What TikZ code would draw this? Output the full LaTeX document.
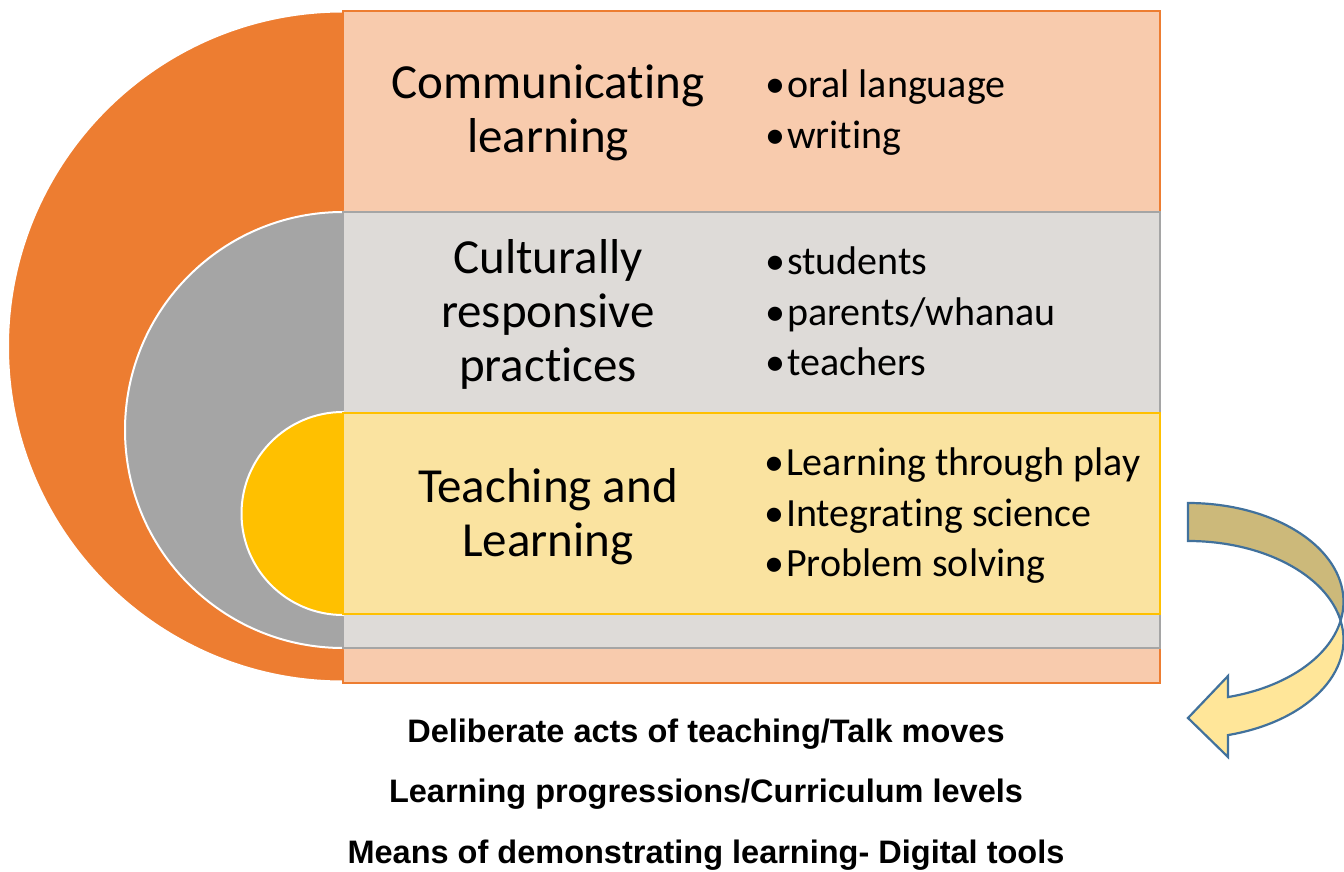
\documentclass[tikz,border=0pt]{standalone}
\usepackage{fontspec}
\setmainfont{Carlito}[Ligatures=NoCommon]
\newfontfamily\labelsans{Liberation Sans}
\definecolor{orangeA}{HTML}{ED7D31}
\definecolor{orangeL}{HTML}{F8CBAD}
\definecolor{grayA}{HTML}{A5A5A5}
\definecolor{grayL}{HTML}{DEDBD8}
\definecolor{goldA}{HTML}{FFC000}
\definecolor{goldL}{HTML}{FAE3A0}
\definecolor{arrowDark}{HTML}{CCB97A}
\definecolor{arrowLight}{HTML}{FFE699}
\definecolor{arrowLine}{HTML}{41719C}
\begin{document}
\begin{tikzpicture}[x=1pt,y=1pt,
  halfdisc/.style={draw=white,line width=2pt},
  band/.style={line width=2.5pt},
  title/.style={anchor=base,inner sep=0pt,font=\fontsize{49}{54}\selectfont},
  bullets/.style={anchor=base west,inner sep=0pt,font=\fontsize{40}{50.5}\selectfont},
  foot/.style={anchor=base,inner sep=0pt,font=\labelsans\bfseries\fontsize{32.5}{39}\selectfont},
  arrowpart/.style={draw=arrowLine,line width=2.2pt,line join=miter}]
\useasboundingbox (0,0) rectangle (1344,871);
% outer (orange) level
\fill[orangeA,halfdisc] (343,859.5) arc[start angle=90,end angle=270,radius=335] -- cycle;
\filldraw[fill=orangeL,draw=orangeA,band] (343,860) rectangle (1160,188);
% middle (gray) level
\fill[grayA,halfdisc] (343,659) arc[start angle=90,end angle=270,radius=218] -- cycle;
\filldraw[fill=grayL,draw=grayA,band] (343,659) rectangle (1160,223);
% inner (gold) level
\fill[goldA,halfdisc] (343,459) arc[start angle=90,end angle=270,radius=101.5] -- cycle;
\filldraw[fill=goldL,draw=goldA,band] (343,458) rectangle (1160,257);
% titles
\node[title] (t1) at (548,772) {\begin{tabular}[t]{@{}c@{}}Communicating\\learning\end{tabular}};
\node[title] (t2) at (548,597) {\begin{tabular}[t]{@{}c@{}}Culturally\\responsive\\practices\end{tabular}};
\node[title] (t3) at (548,368) {\begin{tabular}[t]{@{}c@{}}Teaching and\\Learning\end{tabular}};
% bullet lists
\newcommand\bitem[1]{\makebox[22pt][l]{•}#1}
\node[bullets] (b1) at (765,773) {\begin{tabular}[t]{@{}l@{}}\bitem{oral language}\\\bitem{writing}\end{tabular}};
\node[bullets] (b2) at (765,596) {\begin{tabular}[t]{@{}l@{}}\bitem{students}\\\bitem{parents/whanau}\\\bitem{teachers}\end{tabular}};
\node[bullets] (b3) at (764,395) {\begin{tabular}[t]{@{}l@{}}\bitem{Learning through play}\\\bitem{Integrating science}\\\bitem{Problem solving}\end{tabular}};
% footer lines
\node[foot] (f1) at (706,129) {Deliberate acts of teaching/Talk moves};
\node[foot] (f2) at (706,69) {Learning progressions/Curriculum levels};
\node[foot] (f3) at (706,8) {Means of demonstrating learning- Digital tools};
% curved arrow
\fill[arrowDark,arrowpart] (1188,368) arc[start angle=90,end angle=-11.1,x radius=155.5,y radius=98.7]
  arc[start angle=11.1,end angle=90,x radius=155.5,y radius=98.7] -- cycle;
\fill[arrowLight,arrowpart] ([shift={(1188,269.3)}]-11.1:155.5 and 98.7)
  arc[start angle=-11.1,end angle=-75.1,x radius=155.5,y radius=98.7]
  -- (1228,195) -- (1188,153) -- (1228,114)
  -- ([shift={(1188,231.3)}]-75.1:155.5 and 98.7)
  arc[start angle=-75.1,end angle=11.1,x radius=155.5,y radius=98.7] -- cycle;
\end{tikzpicture}
\end{document}
